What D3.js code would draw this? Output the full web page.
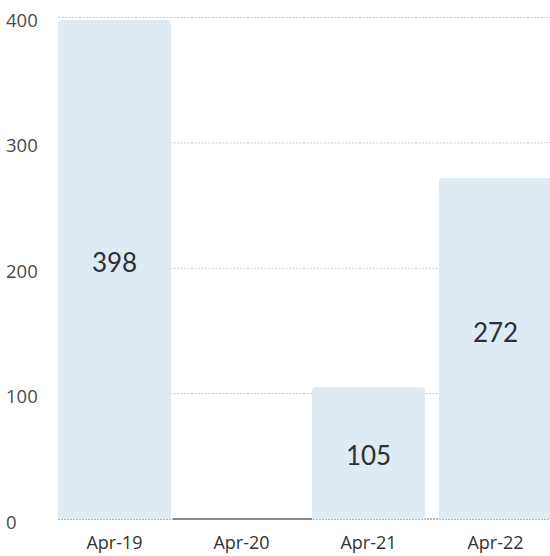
<!DOCTYPE html>
<html><head><meta charset="utf-8">
<script src="https://cdn.jsdelivr.net/npm/d3@7"></script>
<style>body{margin:0;background:#fff}</style>
</head><body>
<svg id="c" width="550" height="556"></svg>
<script>
const categories = ["Apr-19", "Apr-20", "Apr-21", "Apr-22"];
const values = [398, 0, 105, 272];
const labelAnchor = [205, null, 51, 149]; // data units where value labels sit
const yTicks = [0, 100, 200, 300, 400];

const svg = d3.select("#c");
const x = d3.scaleBand().domain(categories).range([51, 559]).paddingInner(0.11).paddingOuter(0.055);
const y = d3.scaleLinear().domain([0, 400]).range([519, 17.5]);

// gridlines
svg.append("g").selectAll("line").data(yTicks.filter(d => d > 0)).join("line")
  .attr("x1", 58).attr("x2", 550)
  .attr("y1", d => y(d)).attr("y2", d => y(d))
  .attr("stroke", "#c8c8c8").attr("stroke-width", 1).attr("stroke-dasharray", "2,1.5");

// baseline
svg.append("line").attr("x1", 58).attr("x2", 550).attr("y1", y(0)).attr("y2", y(0))
  .attr("stroke", "#a0a0a0").attr("stroke-width", 1.5).attr("stroke-dasharray", "2,1");

// bars
const data = categories.map((c, i) => ({c, v: values[i], la: labelAnchor[i]}));
svg.append("g").selectAll("path").data(data.filter(d => d.v > 0)).join("path")
  .attr("fill", "#dfeaf2")
  .attr("d", d => {
    const x0 = x(d.c), w = x.bandwidth(), y0 = y(d.v), y1 = y(0), r = 4;
    return `M${x0},${y1}V${y0 + r}Q${x0},${y0} ${x0 + r},${y0}H${x0 + w - r}Q${x0 + w},${y0} ${x0 + w},${y0 + r}V${y1}Z`;
  });

// zero-value bar drawn as a darker line on the baseline
data.filter(d => d.v === 0).forEach(d => {
  svg.append("line").attr("x1", x(d.c) - 12).attr("x2", x(d.c) + x.bandwidth() + 14)
    .attr("y1", y(0)).attr("y2", y(0)).attr("stroke", "#8a8a8a").attr("stroke-width", 2);
});

// value labels
svg.append("g").selectAll("text").data(data.filter(d => d.v > 0)).join("text")
  .attr("x", d => x(d.c) + x.bandwidth() / 2)
  .attr("y", d => y(d.la))
  .attr("text-anchor", "middle").attr("dominant-baseline", "central")
  .attr("font-family", "Lato, 'Open Sans', sans-serif").attr("font-size", 26)
  .attr("fill", "#2b3038")
  .text(d => d.v);

// y axis labels
svg.append("g").selectAll("text").data(yTicks).join("text")
  .attr("x", 6).attr("y", d => y(d) + 2)
  .attr("dominant-baseline", "central")
  .attr("font-family", "'Open Sans', sans-serif").attr("font-size", 18.5)
  .attr("fill", "#4a4a4a").text(d => d);

// x axis labels
svg.append("g").selectAll("text").data(categories).join("text")
  .attr("x", d => x(d) + x.bandwidth() / 2).attr("y", 549)
  .attr("text-anchor", "middle")
  .attr("font-family", "'Open Sans', sans-serif").attr("font-size", 18)
  .attr("fill", "#333").text(d => d);
</script>
</body></html>
